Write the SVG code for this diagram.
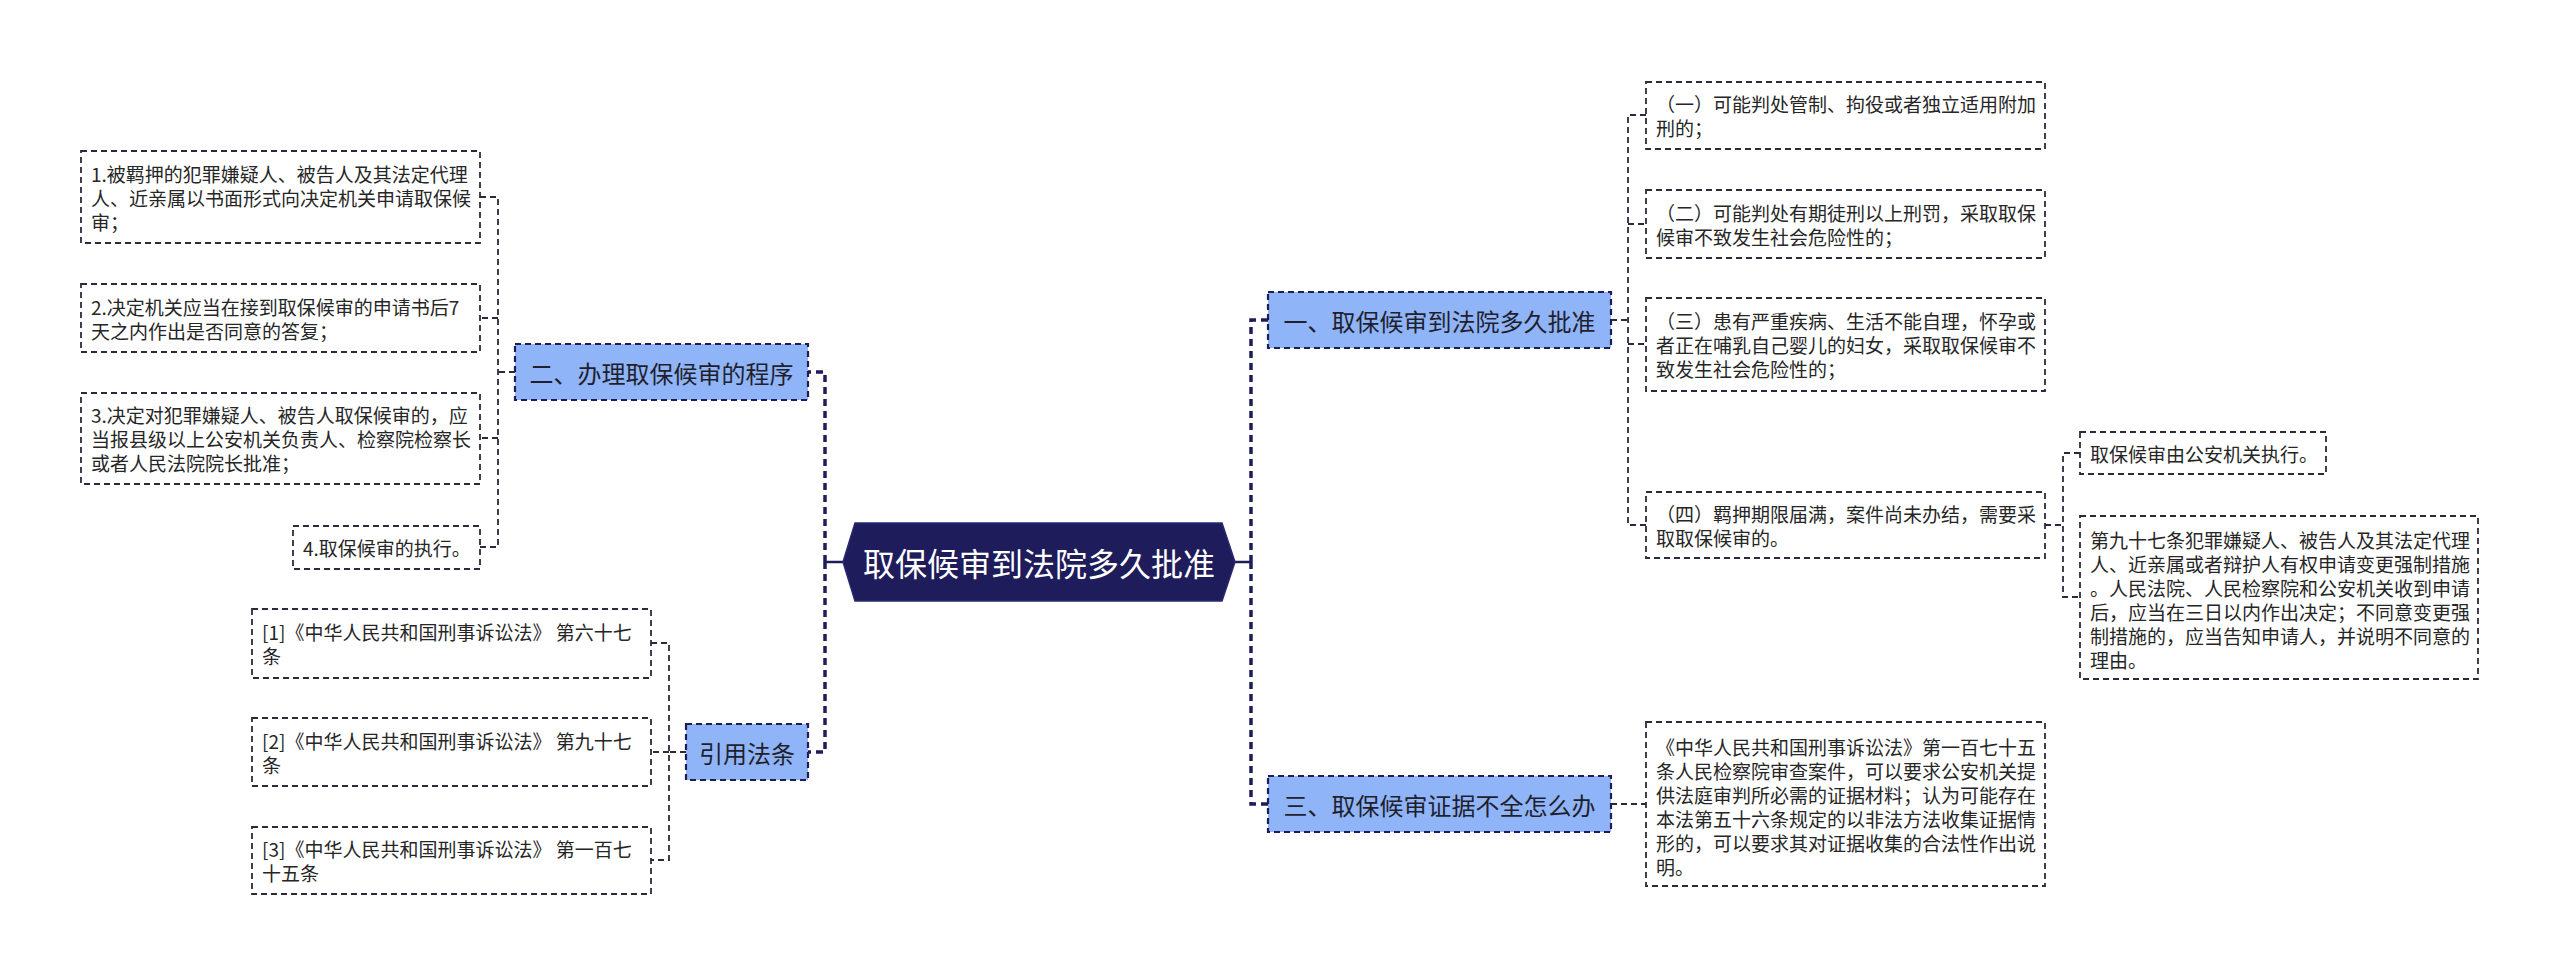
<svg xmlns="http://www.w3.org/2000/svg" width="2560" height="976" viewBox="0 0 2560 976">
<style>
text{font-family:"Noto Sans CJK SC","Noto Sans",sans-serif;dominant-baseline:central}
.leaf rect{fill:#ffffff;stroke:#2a2a3c;stroke-width:1.8;stroke-dasharray:6 4}
.leaf text{font-size:19px;fill:#262626}
.l1 rect{fill:#90b4f8;stroke:#1e1d5a;stroke-width:2.2;stroke-dasharray:6 4}
.l1 text{font-size:24px;fill:#1f1f2e;text-anchor:middle}
.trunk{fill:none;stroke:#1e1d5a;stroke-width:3.5;stroke-dasharray:7 5}
.stub{fill:none;stroke:#1e1d5a;stroke-width:2.5}
.sub{fill:none;stroke:#2a2a3c;stroke-width:1.8;stroke-dasharray:6 4}
</style>
<rect width="2560" height="976" fill="#ffffff"/>
<g id="connectors">
<path class="trunk" d="M825,562 V372 H808"/>
<path class="trunk" d="M825,562 V752 H808"/>
<path class="stub" d="M825,562 H843"/>
<path class="trunk" d="M1251,562 V320 H1268"/>
<path class="trunk" d="M1251,562 V804 H1268"/>
<path class="stub" d="M1235,562 H1251"/>
<path class="sub" d="M515,372 H498"/>
<path class="sub" d="M480,197 H498 V547 H480"/>
<path class="sub" d="M498,318 H480"/>
<path class="sub" d="M498,438 H480"/>
<path class="sub" d="M686,752 H669"/>
<path class="sub" d="M651,643 H669 V860 H651"/>
<path class="sub" d="M669,752 H651"/>
<path class="sub" d="M1611,320 H1628"/>
<path class="sub" d="M1646,115 H1628 V525 H1646"/>
<path class="sub" d="M1628,224 H1646"/>
<path class="sub" d="M1628,344 H1646"/>
<path class="sub" d="M2045,525 H2063"/>
<path class="sub" d="M2080,453 H2063 V597 H2080"/>
<path class="sub" d="M1611,804 H1646"/>
</g>
<g id="root">
<polygon points="843,562 855,523 1222,523 1235,562 1222,601 855,601" fill="#1e1c5a" stroke="#2a2870" stroke-width="1.5"/>
<text x="1039" y="562" font-size="32" fill="#ffffff" text-anchor="middle">取保候审到法院多久批准</text>
</g>
<g id="n-procedure" class="l1">
<rect x="515" y="344" width="293" height="56"/>
<text x="661.5" y="372">二、办理取保候审的程序</text>
</g>
<g id="n-law" class="l1">
<rect x="686" y="724" width="122" height="56"/>
<text x="747" y="752">引用法条</text>
</g>
<g id="n-approve" class="l1">
<rect x="1268" y="292" width="343" height="56"/>
<text x="1439.5" y="320">一、取保候审到法院多久批准</text>
</g>
<g id="n-evidence" class="l1">
<rect x="1268" y="776" width="343" height="56"/>
<text x="1439.5" y="804">三、取保候审证据不全怎么办</text>
</g>
<g id="p1" class="leaf">
<rect x="81" y="151" width="399" height="92"/>
<text x="91" y="173">1.被羁押的犯罪嫌疑人、被告人及其法定代理</text>
<text x="91" y="197">人、近亲属以书面形式向决定机关申请取保候</text>
<text x="91" y="221">审；</text>
</g>
<g id="p2" class="leaf">
<rect x="81" y="284" width="399" height="68"/>
<text x="91" y="306">2.决定机关应当在接到取保候审的申请书后7</text>
<text x="91" y="330">天之内作出是否同意的答复；</text>
</g>
<g id="p3" class="leaf">
<rect x="81" y="393" width="399" height="91"/>
<text x="91" y="414.5">3.决定对犯罪嫌疑人、被告人取保候审的，应</text>
<text x="91" y="438.5">当报县级以上公安机关负责人、检察院检察长</text>
<text x="91" y="462.5">或者人民法院院长批准；</text>
</g>
<g id="p4" class="leaf">
<rect x="293" y="526" width="187" height="43"/>
<text x="303" y="547.5">4.取保候审的执行。</text>
</g>
<g id="law1" class="leaf">
<rect x="252" y="609" width="399" height="69"/>
<text x="262" y="631.5">[1]《中华人民共和国刑事诉讼法》 第六十七</text>
<text x="262" y="655.5">条</text>
</g>
<g id="law2" class="leaf">
<rect x="252" y="718" width="399" height="68"/>
<text x="262" y="740">[2]《中华人民共和国刑事诉讼法》 第九十七</text>
<text x="262" y="764">条</text>
</g>
<g id="law3" class="leaf">
<rect x="252" y="827" width="399" height="67"/>
<text x="262" y="848.5">[3]《中华人民共和国刑事诉讼法》 第一百七</text>
<text x="262" y="872.5">十五条</text>
</g>
<g id="a1" class="leaf">
<rect x="1646" y="82" width="399" height="67"/>
<text x="1656" y="103.5">（一）可能判处管制、拘役或者独立适用附加</text>
<text x="1656" y="127.5">刑的；</text>
</g>
<g id="a2" class="leaf">
<rect x="1646" y="190" width="399" height="68"/>
<text x="1656" y="212">（二）可能判处有期徒刑以上刑罚，采取取保</text>
<text x="1656" y="236">候审不致发生社会危险性的；</text>
</g>
<g id="a3" class="leaf">
<rect x="1646" y="298" width="399" height="93"/>
<text x="1656" y="320.5">（三）患有严重疾病、生活不能自理，怀孕或</text>
<text x="1656" y="344.5">者正在哺乳自己婴儿的妇女，采取取保候审不</text>
<text x="1656" y="368.5">致发生社会危险性的；</text>
</g>
<g id="a4" class="leaf">
<rect x="1646" y="492" width="399" height="66"/>
<text x="1656" y="513">（四）羁押期限届满，案件尚未办结，需要采</text>
<text x="1656" y="537">取取保候审的。</text>
</g>
<g id="a4-1" class="leaf">
<rect x="2080" y="432" width="246" height="42"/>
<text x="2090" y="453">取保候审由公安机关执行。</text>
</g>
<g id="a4-2" class="leaf">
<rect x="2080" y="516" width="398" height="163"/>
<text x="2090" y="539.5">第九十七条犯罪嫌疑人、被告人及其法定代理</text>
<text x="2090" y="563.5">人、近亲属或者辩护人有权申请变更强制措施</text>
<text x="2090" y="587.5">。人民法院、人民检察院和公安机关收到申请</text>
<text x="2090" y="611.5">后，应当在三日以内作出决定；不同意变更强</text>
<text x="2090" y="635.5">制措施的，应当告知申请人，并说明不同意的</text>
<text x="2090" y="659.5">理由。</text>
</g>
<g id="e1" class="leaf">
<rect x="1646" y="722" width="399" height="164"/>
<text x="1656" y="746">《中华人民共和国刑事诉讼法》第一百七十五</text>
<text x="1656" y="770">条人民检察院审查案件，可以要求公安机关提</text>
<text x="1656" y="794">供法庭审判所必需的证据材料；认为可能存在</text>
<text x="1656" y="818">本法第五十六条规定的以非法方法收集证据情</text>
<text x="1656" y="842">形的，可以要求其对证据收集的合法性作出说</text>
<text x="1656" y="866">明。</text>
</g>
</svg>
